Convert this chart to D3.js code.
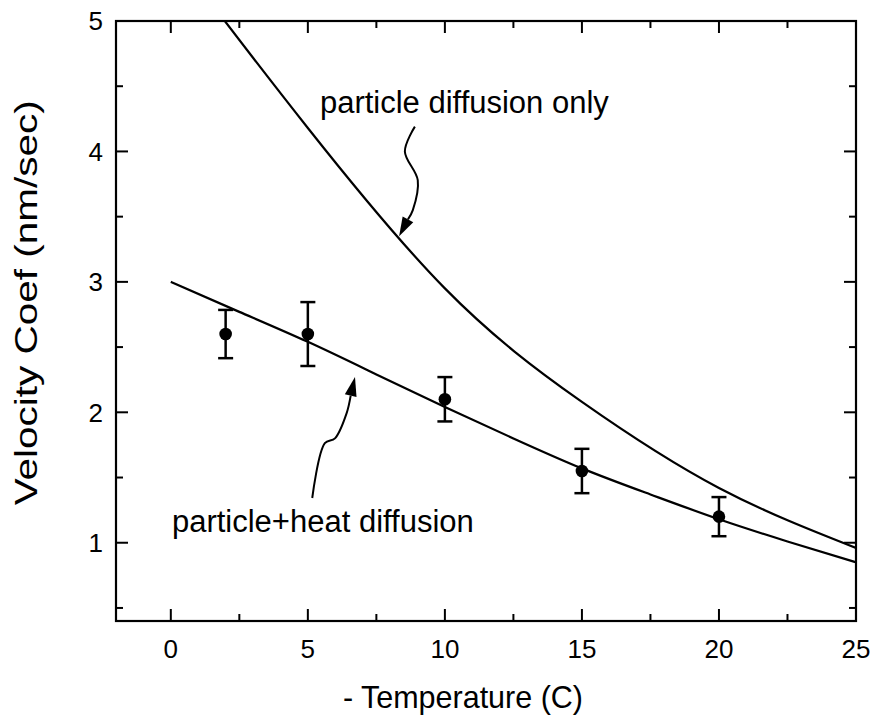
<!DOCTYPE html>
<html>
<head>
<meta charset="utf-8">
<script src="https://cdn.jsdelivr.net/npm/d3@7"></script>
<style>
  html, body { margin: 0; padding: 0; background: #fff; }
  svg { display: block; font-family: "Liberation Sans", Arial, sans-serif; }
</style>
</head>
<body>
<svg id="chart" width="876" height="716"></svg>
<script>
// measured points (- temperature in C, velocity coef in nm/sec)
const tempX = [2, 5, 10, 15, 20];
const velY = [2.60, 2.60, 2.10, 1.55, 1.20];
const velErr = [0.185, 0.245, 0.17, 0.17, 0.15];

// model curves
const heatX = [0, 2.5, 5, 7.5, 10, 12.5, 15, 17.5, 20, 22.5, 25];
const heatY = [3.0, 2.77, 2.54, 2.29, 2.04, 1.80, 1.57, 1.37, 1.18, 1.01, 0.85];
const onlyX = [1.97, 5, 10, 15, 20, 25];
const onlyY = [5.0, 4.18, 2.95, 2.08, 1.42, 0.96];

// ticks
const xMajor = [0, 5, 10, 15, 20, 25];
const xMinor = [2.5, 7.5, 12.5, 17.5, 22.5];
const yMajor = [1, 2, 3, 4, 5];
const yMinor = [0.5, 1.5, 2.5, 3.5, 4.5];

// annotations (data units)
const labelOnly = {text: "particle diffusion only", x: 5.44, y: 4.293};
const labelHeat = {text: "particle+heat diffusion", x: 0.04, y: 1.084};
const arrowOnly = [[8.905, 4.19], [8.54, 4.0], [9.01, 3.78], [8.83, 3.55], [8.33, 3.35]];
const arrowHeat = [[5.16, 1.343], [5.62, 1.764], [5.99, 1.80], [6.41, 1.99], [6.72, 2.27]];

const W = 876, H = 716;
const margin = {top: 21, right: 20, bottom: 95, left: 116};
const iw = W - margin.left - margin.right;
const ih = H - margin.top - margin.bottom;

const x = d3.scaleLinear().domain([-2, 25]).range([0, iw]);
const y = d3.scaleLinear().domain([0.4, 5]).range([ih, 0]);

const svg = d3.select("#chart");
const g = svg.append("g").attr("transform", `translate(${margin.left},${margin.top})`);

g.append("clipPath").attr("id", "clip")
  .append("rect").attr("width", iw).attr("height", ih);

// ticks on all four sides, pointing inward
const majorLen = 12, minorLen = 7;
function tickLines(vals, len, side) {
  g.append("g").selectAll("line").data(vals).join("line")
    .attr("stroke", "#000").attr("stroke-width", 2)
    .each(function(v) {
      const s = d3.select(this);
      if (side === "bottom") s.attr("x1", x(v)).attr("x2", x(v)).attr("y1", ih).attr("y2", ih - len);
      if (side === "top") s.attr("x1", x(v)).attr("x2", x(v)).attr("y1", 0).attr("y2", len);
      if (side === "left") s.attr("y1", y(v)).attr("y2", y(v)).attr("x1", 0).attr("x2", len);
      if (side === "right") s.attr("y1", y(v)).attr("y2", y(v)).attr("x1", iw).attr("x2", iw - len);
    });
}
["bottom", "top"].forEach(s => { tickLines(xMajor, majorLen, s); tickLines(xMinor, minorLen, s); });
["left", "right"].forEach(s => { tickLines(yMajor, majorLen, s); tickLines(yMinor.filter(v => v >= 0.4), minorLen, s); });

// frame
g.append("rect").attr("width", iw).attr("height", ih)
  .attr("fill", "none").attr("stroke", "#000").attr("stroke-width", 2.2);

// tick labels
g.append("g").selectAll("text").data(xMajor).join("text")
  .attr("x", d => x(d)).attr("y", ih + 37)
  .attr("text-anchor", "middle").attr("font-size", 26)
  .text(d => d);
g.append("g").selectAll("text").data(yMajor).join("text")
  .attr("x", -13).attr("y", d => y(d)).attr("dy", "0.36em")
  .attr("text-anchor", "end").attr("font-size", 26)
  .text(d => d);

// axis titles
g.append("text")
  .attr("x", x(10.66)).attr("y", ih + 87)
  .attr("text-anchor", "middle").attr("font-size", 30.5)
  .text("- Temperature (C)");
g.append("text")
  .attr("transform", `translate(-79,${y(2.84)}) rotate(-90)`)
  .attr("text-anchor", "middle").attr("font-size", 32)
  .attr("textLength", 405).attr("lengthAdjust", "spacingAndGlyphs")
  .text("Velocity Coef (nm/sec)");

// curves
const line = d3.line().x(d => x(d[0])).y(d => y(d[1])).curve(d3.curveNatural);
const curves = g.append("g").attr("clip-path", "url(#clip)");
curves.append("path").datum(d3.zip(onlyX, onlyY))
  .attr("d", line).attr("fill", "none").attr("stroke", "#000").attr("stroke-width", 2.2);
curves.append("path").datum(d3.zip(heatX, heatY))
  .attr("d", line).attr("fill", "none").attr("stroke", "#000").attr("stroke-width", 2.2);

// error bars + points
const pts = g.append("g").selectAll("g").data(d3.range(tempX.length)).join("g");
pts.append("line")
  .attr("x1", i => x(tempX[i])).attr("x2", i => x(tempX[i]))
  .attr("y1", i => y(velY[i] - velErr[i])).attr("y2", i => y(velY[i] + velErr[i]))
  .attr("stroke", "#000").attr("stroke-width", 2.5);
[-1, 1].forEach(sgn => {
  pts.append("line")
    .attr("x1", i => x(tempX[i]) - 7.5).attr("x2", i => x(tempX[i]) + 7.5)
    .attr("y1", i => y(velY[i] + sgn * velErr[i])).attr("y2", i => y(velY[i] + sgn * velErr[i]))
    .attr("stroke", "#000").attr("stroke-width", 2.5);
});
pts.append("circle")
  .attr("cx", i => x(tempX[i])).attr("cy", i => y(velY[i])).attr("r", 6.3)
  .attr("fill", "#000");

// annotation labels
[labelOnly, labelHeat].forEach(l => {
  g.append("text").attr("x", x(l.x)).attr("y", y(l.y))
    .attr("font-size", 31).text(l.text);
});

// wavy arrows with filled heads
function drawArrow(pts) {
  const p = pts.map(d => [x(d[0]), y(d[1])]);
  const tip = p[p.length - 1];
  const prev = p[p.length - 2];
  const ang = Math.atan2(tip[1] - prev[1], tip[0] - prev[0]);
  const hl = 19, hw = 6;
  const base = [tip[0] - hl * Math.cos(ang), tip[1] - hl * Math.sin(ang)];
  const body = p.slice(0, -1).concat([base]);
  g.append("path").datum(body)
    .attr("d", d3.line().curve(d3.curveCatmullRom))
    .attr("fill", "none").attr("stroke", "#000").attr("stroke-width", 2);
  const nx = -Math.sin(ang), ny = Math.cos(ang);
  g.append("path")
    .attr("d", `M${tip[0]},${tip[1]} L${base[0] + nx * hw},${base[1] + ny * hw} L${base[0] - nx * hw},${base[1] - ny * hw} Z`)
    .attr("fill", "#000");
}
drawArrow(arrowOnly);
drawArrow(arrowHeat);
</script>
</body>
</html>
